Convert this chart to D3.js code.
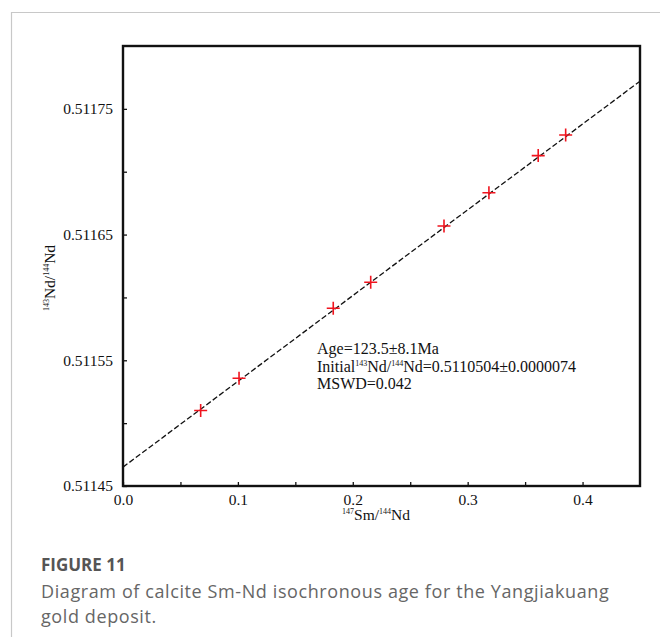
<!DOCTYPE html>
<html>
<head>
<meta charset="utf-8">
<script src="https://cdn.jsdelivr.net/npm/d3@7"></script>
<style>
  html, body { margin: 0; padding: 0; background: #fff; }
  #chart { width: 660px; height: 637px; }
  .serif { font-family: "Liberation Serif", "Times New Roman", serif; fill: #111; }
  .caption { font-family: "Open Sans", sans-serif; }
</style>
</head>
<body>
<div id="chart"></div>
<script>
// Sm-Nd sample points
const smNd = [0.0676, 0.101, 0.183, 0.2156, 0.2794, 0.3185, 0.3614, 0.3853];
const ndNd = [0.511510, 0.5115357, 0.5115914, 0.5116121, 0.5116568, 0.5116833, 0.5117128, 0.5117292];

// isochron line endpoints (as drawn)
const isoX = [0, 0.45];
const isoY = [0.511465, 0.511772];

const xTicks = [0, 0.05, 0.1, 0.15, 0.2, 0.25, 0.3, 0.35, 0.4];
const xTickLabels = ['0.0', '', '0.1', '', '0.2', '', '0.3', '', '0.4'];
const yTicks = [0.51145, 0.5115, 0.51155, 0.5116, 0.51165, 0.5117, 0.51175];
const yTickLabels = ['0.51145', '', '0.51155', '', '0.51165', '', '0.51175'];

const annotation = ['Age=123.5\u00b18.1Ma', null, 'MSWD=0.042'];

const W = 660, H = 637;
const plot = { left: 123, right: 640, top: 46, bottom: 486 };

const svg = d3.select('#chart')
  .append('svg')
  .attr('width', W)
  .attr('height', H);

// page border (top + left)
svg.append('path')
  .attr('d', 'M11.5,' + H + 'V12.5H' + W)
  .attr('fill', 'none')
  .attr('stroke', '#c8c8c8')
  .attr('stroke-width', 1.2);

const x = d3.scaleLinear().domain([0, 0.45]).range([plot.left, plot.right]);
const y = d3.scaleLinear().domain([0.51145, 0.5118]).range([plot.bottom, plot.top]);

// axes with inward ticks
const xAxis = d3.axisBottom(x)
  .tickValues(xTicks)
  .tickSizeInner(-4)
  .tickSizeOuter(0)
  .tickPadding(8)
  .tickFormat((d, i) => xTickLabels[i]);

const yAxis = d3.axisLeft(y)
  .tickValues(yTicks)
  .tickSizeInner(-4)
  .tickSizeOuter(0)
  .tickPadding(10)
  .tickFormat((d, i) => yTickLabels[i]);

const gx = svg.append('g')
  .attr('transform', `translate(0,${plot.bottom})`)
  .call(xAxis);

const gy = svg.append('g')
  .attr('transform', `translate(${plot.left},0)`)
  .call(yAxis);

[gx, gy].forEach(g => {
  g.select('.domain').remove();
  g.selectAll('.tick line').attr('stroke', '#111').attr('stroke-width', 1.3);
  g.selectAll('text')
    .attr('class', 'serif')
    .style('font-size', '15.5px')
    .attr('fill', '#222');
});

// isochron dashed line
svg.append('path')
  .datum(isoX.map((v, i) => [v, isoY[i]]))
  .attr('fill', 'none')
  .attr('stroke', '#111')
  .attr('stroke-width', 1.3)
  .attr('stroke-dasharray', '5.5,2.5')
  .attr('d', d3.line().x(d => x(d[0])).y(d => y(d[1])));

// frame
svg.append('rect')
  .attr('x', plot.left)
  .attr('y', plot.top)
  .attr('width', plot.right - plot.left)
  .attr('height', plot.bottom - plot.top)
  .attr('fill', 'none')
  .attr('stroke', '#111')
  .attr('stroke-width', 2.4);

// red plus markers
svg.append('g')
  .selectAll('path')
  .data(smNd.map((v, i) => [v, ndNd[i]]))
  .join('path')
  .attr('transform', d => `translate(${x(d[0])},${y(d[1])})`)
  .attr('d', 'M-6.5,0H6.5M0,-6.5V6.5')
  .attr('stroke', '#f0141e')
  .attr('stroke-width', 1.6);

// annotation
const ann = svg.append('text')
  .attr('class', 'serif')
  .attr('x', 317)
  .attr('y', 354)
  .style('font-size', '16px')
  .attr('fill', '#222');

ann.append('tspan').attr('x', 317).attr('y', 354).text(annotation[0]);
const l2 = ann.append('tspan').attr('x', 317).attr('y', 371.5);
l2.append('tspan').text('Initial');
l2.append('tspan').attr('dy', -6).style('font-size', '8px').text('143');
l2.append('tspan').attr('dy', 6).text('Nd/');
l2.append('tspan').attr('dy', -6).style('font-size', '8px').text('144');
l2.append('tspan').attr('dy', 6).text('Nd=0.5110504\u00b10.0000074');
ann.append('tspan').attr('x', 317).attr('y', 389).text(annotation[2]);

// x axis title
const xt = svg.append('text')
  .attr('class', 'serif')
  .attr('x', 376)
  .attr('y', 520)
  .attr('text-anchor', 'middle')
  .style('font-size', '15.5px')
  .attr('fill', '#222');
xt.append('tspan').attr('dy', -6).style('font-size', '8px').text('147');
xt.append('tspan').attr('dy', 6).text('Sm/');
xt.append('tspan').attr('dy', -6).style('font-size', '8px').text('144');
xt.append('tspan').attr('dy', 6).text('Nd');

// y axis title
const yt = svg.append('text')
  .attr('class', 'serif')
  .attr('transform', 'translate(55,278) rotate(-90)')
  .attr('text-anchor', 'middle')
  .style('font-size', '15.5px')
  .attr('fill', '#222');
yt.append('tspan').attr('dy', -6).style('font-size', '8px').text('143');
yt.append('tspan').attr('dy', 6).text('Nd/');
yt.append('tspan').attr('dy', -6).style('font-size', '8px').text('144');
yt.append('tspan').attr('dy', 6).text('Nd');

// caption
svg.append('text')
  .attr('class', 'caption')
  .attr('x', 41)
  .attr('y', 571)
  .style('font-size', '17px')
  .style('font-weight', 700)
  .attr('fill', '#555')
  .text('FIGURE 11');

const cap = svg.append('text')
  .attr('class', 'caption')
  .style('font-size', '18px')
  .style('letter-spacing', '0.6px')
  .attr('fill', '#666');
cap.append('tspan').attr('x', 41).attr('y', 598)
  .text('Diagram of calcite Sm-Nd isochronous age for the Yangjiakuang');
cap.append('tspan').attr('x', 41).attr('y', 623)
  .text('gold deposit.');
</script>
</body>
</html>
